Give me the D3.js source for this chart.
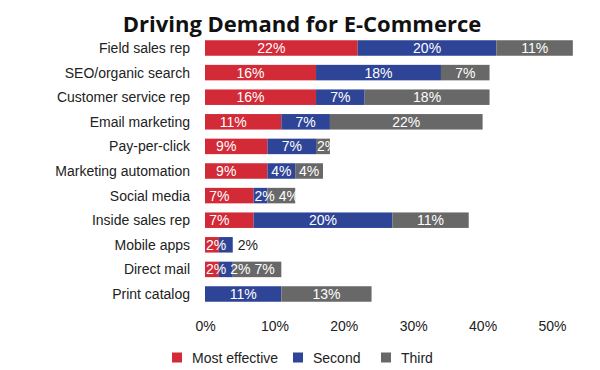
<!DOCTYPE html>
<html>
<head>
<meta charset="utf-8">
<script src="https://cdn.jsdelivr.net/npm/d3@7"></script>
<style>
  html, body { margin: 0; padding: 0; background: #fff; }
  svg { display: block; }
</style>
</head>
<body>
<svg id="chart" width="600" height="370"></svg>
<script>
const categories = ["Field sales rep", "SEO/organic search", "Customer service rep", "Email marketing",
  "Pay-per-click", "Marketing automation", "Social media", "Inside sales rep", "Mobile apps",
  "Direct mail", "Print catalog"];
const mostEffective = [22, 16, 16, 11, 9, 9, 7, 7, 2, 2, 0];
const second        = [20, 18, 7, 7, 7, 4, 2, 20, 2, 2, 11];
const third         = [11, 7, 18, 22, 2, 4, 4, 11, 0, 7, 13];
const seriesNames = ["Most effective", "Second", "Third"];
const tickValues = [0, 10, 20, 30, 40, 50];

const colors = ["#d22a37", "#2e4496", "#686868"];
const font = "'Liberation Sans', Arial, sans-serif";

const svg = d3.select("#chart");

svg.append("text")
  .attr("x", 302).attr("y", 32)
  .attr("text-anchor", "middle")
  .style("font-family", "'Open Sans', sans-serif")
  .style("font-weight", 700)
  .style("font-size", "22px")
  .attr("fill", "#111")
  .text("Driving Demand for E-Commerce");

const x = d3.scaleLinear().domain([0, 50]).range([205, 552]);
const y = d3.scaleBand().domain(categories).range([35.7, 306.3]).paddingInner(0.37).paddingOuter(0.185);

const rows = categories.map((c, i) => {
  const vals = [mostEffective[i], second[i], third[i]];
  let acc = 0;
  return { cat: c, segs: vals.map((v, k) => { const s = { k, v, x0: acc, x1: acc + v }; acc += v; return s; }) };
});

// bars
const g = svg.append("g");
rows.forEach(r => {
  g.selectAll(null).data(r.segs.filter(s => s.v > 0)).enter().append("rect")
    .attr("x", s => x(s.x0))
    .attr("y", y(r.cat))
    .attr("width", s => x(s.x1) - x(s.x0))
    .attr("height", y.bandwidth())
    .attr("fill", s => colors[s.k]);
});

// value labels
const measure = svg.append("text").style("font-family", font).style("font-size", "14px").attr("opacity", 0);
function textW(t) { measure.text(t); return measure.node().getComputedTextLength(); }

rows.forEach(r => {
  const segs = r.segs.filter(s => s.v > 0);
  let prevRight = -Infinity;
  const cy = y(r.cat) + y.bandwidth() / 2;
  segs.forEach((s, idx) => {
    const t = s.v + "%";
    const w = textW(t);
    const sx0 = x(s.x0), sx1 = x(s.x1);
    const segW = sx1 - sx0;
    const isLast = idx === segs.length - 1;
    let left, fill = "#fff";
    if (isLast && segW < w && r.segs[2].v === 0) {
      left = sx1 + 5; fill = "#222";
    } else {
      let c = (sx0 + sx1) / 2 - (s.k === 0 ? 10 : 0);
      left = Math.max(c - w / 2, sx0 + 1, prevRight + 4);
    }
    prevRight = left + w;
    svg.append("text")
      .attr("x", left).attr("y", cy).attr("dy", "0.36em")
      .style("font-family", font).style("font-size", "14px")
      .attr("fill", fill).text(t);
  });
});
measure.remove();

// category labels
svg.append("g").selectAll("text").data(categories).enter().append("text")
  .attr("x", 190)
  .attr("y", d => y(d) + y.bandwidth() / 2)
  .attr("dy", "0.36em")
  .attr("text-anchor", "end")
  .style("font-family", font).style("font-size", "14px")
  .attr("fill", "#222")
  .text(d => d);

// x axis
const axis = svg.append("g").attr("transform", "translate(0,321)")
  .call(d3.axisBottom(x).tickValues(tickValues).tickFormat(d => d + "%").tickSize(0).tickPadding(0));
axis.select(".domain").remove();
axis.selectAll("text")
  .style("font-family", font).style("font-size", "14px")
  .attr("fill", "#222").attr("dy", "0.71em");

// legend
const legendX = [172, 293, 381];
const lg = svg.append("g");
seriesNames.forEach((n, i) => {
  lg.append("rect").attr("x", legendX[i]).attr("y", 352.5).attr("width", 10).attr("height", 10).attr("fill", colors[i]);
  lg.append("text").attr("x", legendX[i] + 20).attr("y", 357.5).attr("dy", "0.36em")
    .style("font-family", font).style("font-size", "14px").attr("fill", "#222").text(n);
});
</script>
</body>
</html>
